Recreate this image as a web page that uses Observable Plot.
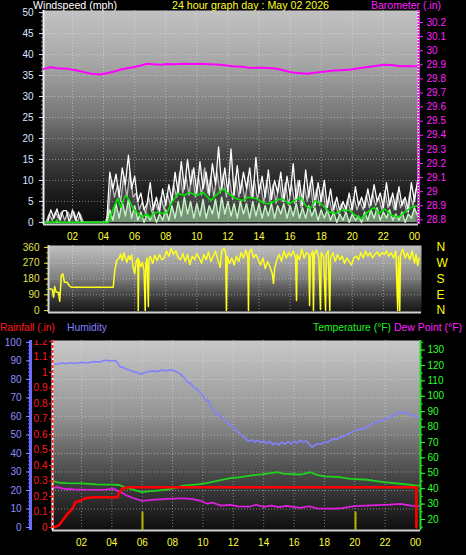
<!DOCTYPE html>
<html><head><meta charset="utf-8">
<script src="https://cdn.jsdelivr.net/npm/d3@7"></script>
<script src="https://cdn.jsdelivr.net/npm/@observablehq/plot@0.6"></script>
<style>
html,body{margin:0;padding:0;background:#000;}
#root{position:relative;width:466px;height:555px;background:#000;overflow:hidden;font-family:"Liberation Sans",Arial,sans-serif;}
.t{position:absolute;font-size:11px;white-space:nowrap;line-height:12px;transform-origin:0 0;}
</style></head><body><div id="root"></div>
<script>
// ---------- DATA ----------
const titleText = "24 hour graph day : May 02 2026";
const xTicks = [2,4,6,8,10,12,14,16,18,20,22,24];

// Panel 1: wind (mph), samples every 0.2 h starting at 0.2 h
const gustValues = [0,0,3,1,3.2,0.5,2.8,2.8,0,3,0.5,2.5,0,0,0,0,0,0,0,0,0,
  12,8,11.5,6,13,9,16,8,11,5,7,3,4.5,9.5,3,6,2.5,8,4,9,5,12,7,14.5,8,15,9,13,7,14.5,8,12,6.5,14,9,18,8,13,
  7,17.5,6.5,13.5,7,12,8,13,6,15.5,7,11,6,12.5,5.5,10,7,12,5,11,6.5,14,5,10,4,12.5,6,11,4,9.5,5,10,3.5,8,3,6,2.5,5,3,7,
  3,8.5,4,6,3.5,8,4,9,5,7,3.5,9.5,4,7,3,8.5,4,6,2.5,9.5,5,10];
// secondary (grey) gust trace, samples every 0.2 h starting at 0.3 h
const grayValues = [0,2,0.5,2.5,1,2.5,0.5,2.5,1,2.5,0,2,0,0,0,0,0,0,0,0,
  2,10,6,9,5,11,6,12,6,7,3,5,2,6,2.5,5,3,6,3,7,4,9,6,12,7,11,6.5,12.5,6,11,6.5,13,7,11,6,12,7,11.5,6,
  10.5,5.5,11,6,10,5,11,6,10,5.5,9.5,4.5,10,5,9,4.5,10,5,9.5,4,9,4.5,10,3.5,9,5,9.5,3.5,8,4,8,3,6,2.5,5,2,4.5,2.5,5.5,2.5,
  6,3,5,3,6.5,3.5,7,4,6,3,7.5,3.5,6,3,7,3.5,5.5,2.5,7,4,8];
// wind speed, samples every 0.2 h starting at 0.2 h
const speedValues = [0,0,0,0,0,0,0,0,0,0,0,0,0,0,0,0,0,0,0,0,0,
  3,0.5,4.5,1,5,1.5,5.5,1,4,0.5,2.5,0,2,0.5,2.5,0,2,0.5,3,0.5,4,1,5,1.5,6,2,5,1,4.5,1.5,5.5,1,4,2,5.5,1,6,2,
  5,1.5,4.5,1,5,2,4.5,1,5,1.5,4.5,1,4,1.5,4.5,1,4,2,4.5,1,4,1.5,4.5,1,3.5,1,4,1.5,3.5,0.5,3,1,3,0.5,2.5,0,2,0.5,2.5,0,
  2,0.5,1.5,0,2.5,0.5,3,1,3.5,0.5,2.5,1,3,0.5,2,0.5,2.5,0,2,1,3.5,1.5];
// average wind [hour, mph]
const avgWind = [[0.2,0],[0.9,0],[1.0,0.6],[1.1,0],[4.3,0],[4.6,3],[4.9,5.7],[5.1,3.6],[5.4,6.4],[5.6,5.7],[5.9,3.3],
  [6.2,2.2],[6.5,1.3],[6.8,2.0],[7.0,1.2],[7.2,2.1],[7.5,2.5],[7.8,2.1],[8.1,2.5],[8.4,4.8],[8.8,6.9],[9.2,6.4],[9.5,7.2],
  [10.0,6.4],[10.4,7.2],[10.9,5.2],[11.2,6.4],[11.7,8],[12.0,6.9],[12.5,5.7],[12.9,5.2],[13.3,6],[13.8,5.7],[14.2,4.8],
  [14.6,4.4],[15.1,5.2],[15.5,5.7],[15.9,4.4],[16.3,5.2],[16.7,6],[17.0,4],[17.3,3.2],[17.6,5.2],[18.0,4.4],[18.5,2.5],
  [18.9,2.1],[19.3,2.9],[19.8,2.9],[20.2,1.7],[20.6,0.9],[21.0,2.5],[21.4,3.6],[21.7,2.1],[22.1,3.2],[22.5,1.7],[23.0,1.3],
  [23.4,2.5],[23.8,3.6],[24.2,4]];
// barometer [hour, inHg]
const baro = [[0.135,29.871],[0.6,29.883],[1.0,29.876],[1.7,29.871],[2.3,29.859],[2.8,29.846],[3.2,29.836],[3.8,29.831],
  [4.2,29.840],[4.7,29.852],[5.1,29.866],[5.5,29.875],[5.9,29.883],[6.4,29.895],[6.8,29.907],[7.2,29.903],[7.7,29.900],
  [8.1,29.905],[8.6,29.903],[9.2,29.907],[9.7,29.905],[10.2,29.907],[10.8,29.904],[11.3,29.902],[11.8,29.897],[12.3,29.890],
  [12.9,29.886],[13.4,29.878],[14.2,29.879],[14.9,29.876],[15.3,29.868],[15.6,29.859],[16.0,29.849],[16.3,29.843],
  [17.05,29.836],[17.7,29.846],[18.3,29.853],[18.8,29.859],[19.3,29.862],[19.9,29.866],[20.4,29.875],[20.9,29.883],
  [21.5,29.892],[22.0,29.900],[22.5,29.899],[23.1,29.890],[23.6,29.892],[24.26,29.888]];
const windTicks = [0,5,10,15,20,25,30,35,40,45,50];
const baroTicks = [28.8,28.9,29.0,29.1,29.2,29.3,29.4,29.5,29.6,29.7,29.8,29.9,30.0,30.1,30.2];

// Panel 2: wind direction [hour, degrees]
const windDir = [[0.55,124],[0.7,120],[0.78,76],[0.85,137],[0.95,105],[1.1,105],[1.18,53],[1.28,200],[1.38,210],[1.48,162],
  [1.65,162],[1.78,143],[1.92,133],[4.62,133],[4.72,229],[4.85,286],
  [5.0,300],[5.1,322],[5.2,285],[5.3,330],[5.4,300],[5.5,275],[5.6,312],[5.7,290],[5.8,318],[5.9,250],[6.0,211],[6.1,280],
  [6.2,300],[6.23,0],[6.27,290],[6.4,250],[6.5,275],[6.6,230],[6.68,0],[6.72,270],[6.8,300],[6.88,23],[6.92,290],[7.0,310],
  [7.15,270],[7.3,315],[7.45,285],[7.6,320],[7.75,290],[7.9,300],[8.05,340],[8.2,310],[8.35,355],[8.5,320],[8.65,340],
  [8.8,300],[8.95,290],[9.1,325],[9.25,280],[9.4,320],[9.55,262],[9.7,310],[9.85,290],[10.0,325],[10.15,300],[10.3,270],
  [10.45,320],[10.6,290],[10.75,335],[10.9,280],[11.05,310],[11.2,340],[11.35,290],[11.5,247],[11.6,340],[11.75,355],
  [11.85,330],[11.9,0],[11.95,310],[12.1,270],[12.25,300],[12.4,260],[12.55,310],[12.7,280],[12.85,330],[13.0,300],
  [13.15,345],[13.28,300],[13.32,0],[13.36,330],[13.5,350],[13.65,300],[13.8,320],[13.95,290],[14.1,260],[14.25,300],
  [14.4,240],[14.55,280],[14.7,250],[14.85,211],[14.93,154],[15.0,240],[15.15,290],[15.3,320],[15.45,280],[15.6,340],
  [15.75,300],[15.9,330],[16.05,310],[16.2,340],[16.35,300],[16.41,57],[16.45,320],[16.6,290],[16.75,350],[16.9,300],
  [17.05,330],[17.2,320],[17.25,29],[17.3,310],[17.45,340],[17.5,0],[17.55,320],[17.7,345],[17.85,300],[17.95,6],[18.0,330],
  [18.15,310],[18.28,0],[18.32,320],[18.45,340],[18.55,0],[18.6,300],[18.75,330],[18.9,280],[19.05,320],[19.2,290],
  [19.35,310],[19.5,270],[19.65,300],[19.8,280],[19.95,260],[20.1,300],[20.25,310],[20.4,290],[20.55,330],[20.7,300],
  [20.85,340],[21.0,310],[21.15,330],[21.3,300],[21.45,320],[21.6,335],[21.75,310],[21.9,330],[22.05,320],[22.2,340],
  [22.35,310],[22.5,330],[22.65,300],[22.8,340],[22.92,0],[22.97,310],[23.05,0],[23.1,320],[23.25,350],[23.4,300],
  [23.55,330],[23.7,290],[23.85,340],[24.0,270],[24.1,320],[24.2,257],[24.3,300]];
const dirTicks = [0,90,180,270,360];
const compassTicks = [360,270,180,90,0];
const compassLabels = ["N","W","S","E","N"];

// Panel 3
const humidity = [[0.1,88.5],[0.4,88.2],[0.7,88.8],[1.0,88.4],[1.3,89],[1.6,88.6],[2.0,89.2],[2.4,89],[2.8,89.6],[3.2,89.4],
  [3.5,90.3],[3.9,90],[4.2,90.2],[4.35,89.4],[4.5,87],[4.7,86.5],[4.9,85.8],[5.1,85.2],[5.4,84.2],[5.7,83.6],[5.9,82.8],
  [6.1,83.4],[6.4,84.2],[6.7,84.6],[7.0,84.2],[7.3,85],[7.6,84.6],[7.9,85.2],[8.2,84.4],[8.5,83],[8.7,81.5],[9.0,78.5],
  [9.2,77.8],[9.4,75.6],[9.6,75],[9.85,72.5],[10.0,71.2],[10.2,68.5],[10.35,69],[10.5,65.5],[10.7,63.5],[10.85,61],[11.0,61.8],
  [11.2,59.5],[11.4,58.5],[11.6,56.5],[11.8,55.5],[12.0,54],[12.2,52.5],[12.4,51],[12.6,49.5],[12.8,48.2],[13.0,46.5],
  [13.2,47.5],[13.4,46.2],[13.6,47.2],[13.8,45.8],[14.0,46.8],[14.2,45.5],[14.4,46.5],[14.6,44.8],[14.8,45.6],[15.0,44.6],
  [15.2,46.2],[15.4,45],[15.6,46.4],[15.8,45.2],[16.0,46.6],[16.2,45.6],[16.4,47.2],[16.6,46],[16.8,46.8],[17.0,45],[17.2,43.4],
  [17.4,44.6],[17.6,45.4],[17.8,45],[18.0,46.2],[18.2,45.8],[18.4,47],[18.6,48],[18.8,47.6],[19.0,48.6],[19.2,49.2],[19.4,49.8],
  [19.6,50.8],[19.8,51.4],[20.0,52.2],[20.2,52.8],[20.4,53.4],[20.6,53.2],[20.8,54.4],[21.0,55],[21.2,56.2],[21.4,56.8],
  [21.6,57.6],[21.8,57.8],[22.0,58.8],[22.2,59.2],[22.4,60],[22.6,60.8],[22.8,61.6],[23.0,62.4],[23.2,61.8],[23.4,62.2],
  [23.6,61.2],[23.8,60.6],[24.0,60.2],[24.2,59.6]];
const temperature = [[0.1,44.9],[0.5,44],[1,43.6],[2,43.4],[3,42.8],[4,42.7],[4.5,42.4],[4.8,41],[5.2,40],[5.6,38.7],[6,37.7],
  [6.4,38.3],[7,38.8],[7.7,39.5],[8.2,40.5],[8.7,42],[9.3,42.5],[9.8,43],[10.4,44],[11,45.3],[11.8,46.8],[12.5,47.5],
  [13.1,48.5],[14,49.5],[14.9,50.8],[15.3,49.8],[16.4,49.2],[17.1,50.7],[17.5,49],[18,48],[19,47.5],[19.7,46.4],[20.8,45.8],
  [21.9,44.2],[23,43.2],[24,42.2],[24.3,42]];
const dewPoint = [[0.1,40.3],[0.4,41],[0.8,40],[1.5,39.6],[2.5,39.3],[3.5,39.3],[4.1,40],[4.6,37.7],[5,35.5],[5.4,34],[6,32],
  [6.6,32.8],[7.7,33.4],[8.7,33.8],[9.3,33.2],[9.8,32.3],[10.3,30.2],[10.6,31],[11.2,29],[11.8,29.5],[12.3,28.5],[13.1,28.4],
  [13.5,29.6],[14,28.2],[14.5,29],[15,28],[15.5,28.8],[16.4,27.6],[17,28.6],[17.5,27.2],[18.6,27],[19.2,27.4],[19.7,28.4],
  [20.3,28.8],[20.8,29],[21.5,29.3],[22.3,29.6],[23,30.2],[23.6,29.2],[24,28.6],[24.3,28.8]];
const rainfall = [[0.15,0],[0.5,0.013],[0.75,0.045],[1.07,0.088],[1.4,0.12],[1.6,0.163],[1.94,0.174],[2.27,0.19],[2.8,0.195],
  [4.37,0.195],[4.45,0.217],[4.7,0.25],[5.0,0.26],[24.05,0.26],[24.06,0]];
const markerHours = [6.02, 20.05];
const markerTop = [0.1, 0.1];
const humTicks = [0,10,20,30,40,50,60,70,80,90,100];
const rainTicks = [0,0.1,0.2,0.3,0.4,0.5,0.6,0.7,0.8,0.9,1.0,1.1,1.2];
const tempTicks = [20,30,40,50,60,70,80,90,100,110,120,130];

// ---------- HELPERS ----------
const FONT = '"Liberation Sans", Arial, sans-serif';
const root = document.getElementById("root");
const fmtHour = h => String(h % 24).padStart(2, "0");
const fmt1 = d => String(+d.toFixed(1));
const pts = arr => arr.map(([h, v]) => ({h, v}));
const idx = (vals, start) => vals.map((v, i) => ({h: start + 0.2 * i, v}));
function grad(id, stops) {
  return () => {
    const ns = "http://www.w3.org/2000/svg";
    const defs = document.createElementNS(ns, "defs");
    const lg = document.createElementNS(ns, "linearGradient");
    lg.setAttribute("id", id); lg.setAttribute("x1", "0"); lg.setAttribute("y1", "0");
    lg.setAttribute("x2", "0"); lg.setAttribute("y2", "1");
    for (const [o, c] of stops) {
      const s = document.createElementNS(ns, "stop");
      s.setAttribute("offset", o); s.setAttribute("stop-color", c); lg.appendChild(s);
    }
    defs.appendChild(lg);
    return defs;
  };
}
function place(opts, top, clip) {
  const svg = Plot.plot({...opts,
    style: `background:transparent;overflow:${clip ? "hidden" : "visible"};font-family:${FONT};font-size:10px;`});
  svg.style.position = "absolute"; svg.style.left = "0px"; svg.style.top = top + "px";
  svg.style.maxWidth = "none";
  root.appendChild(svg);
  return svg;
}
function text(str, left, top, color, width) {
  const d = document.createElement("div");
  d.className = "t"; d.textContent = str; d.style.left = left + "px"; d.style.top = top + "px";
  d.style.color = color;
  root.appendChild(d);
  const w = d.getBoundingClientRect().width;
  if (w > 0 && width) d.style.transform = `scaleX(${width / w})`;
}
const gridStyle = {stroke: "#f0f0f0", strokeOpacity: 0.45, strokeDasharray: "1,2"};

// ---------- PANEL 1: wind + barometer ----------
const windX = [0.135, 24.26];
const p1 = {width: 466, height: 240, marginLeft: 43, marginRight: 48, marginTop: 10, marginBottom: 16};
place({...p1,
  x: {domain: windX, label: null}, y: {domain: [-0.5, 50.5], label: null},
  marks: [
    grad("g1", [["0", "#c2c2c2"], ["0.25", "#a6a6a6"], ["0.5", "#767676"], ["0.7", "#3c3c3c"], ["0.86", "#1c1c1c"], ["1", "#0a0a0a"]]),
    Plot.frame({fill: "url(#g1)"}),
    Plot.gridY(windTicks.slice(1, -1), gridStyle),
    Plot.gridX(xTicks.slice(0, -1), gridStyle),
    Plot.areaY(idx(grayValues, 0.3), {x: "h", y: "v", fill: "#a8a8a8", fillOpacity: 0.3}),
    Plot.line(idx(grayValues, 0.3), {x: "h", y: "v", stroke: "#bcbcbc", strokeWidth: 1.3}),
    Plot.line(idx(gustValues, 0.2), {x: "h", y: "v", stroke: "#ffffff", strokeWidth: 1.3}),
    Plot.areaY(idx(speedValues, 0.2), {x: "h", y: "v", fill: "#b4ecb4", fillOpacity: 0.5}),
    Plot.line(idx(speedValues, 0.2), {x: "h", y: "v", stroke: "#c4f4c4", strokeWidth: 1.4}),
    Plot.line(pts(avgWind), {x: "h", y: "v", stroke: "#00e400", strokeWidth: 1.6}),
    Plot.ruleX([windX[0]], {stroke: "#eeeeee", strokeWidth: 2}),
    Plot.ruleY([-0.5], {stroke: "#cfcfcf", strokeWidth: 2}),
    Plot.axisY(d3.range(0, 51, 1), {anchor: "left", tickSize: 2, tickFormat: () => "", color: "#9a9a9a", label: null}),
    Plot.axisY(windTicks, {anchor: "left", tickSize: 4, tickPadding: 6, color: "#dfe6ff", label: null}),
    Plot.axisX(xTicks, {anchor: "bottom", tickSize: 0, tickPadding: 8, tickFormat: fmtHour, color: "#ffff3a", label: null})
  ]}, 0);
place({...p1,
  x: {domain: windX, axis: null}, y: {domain: [28.767, 30.285], label: null},
  marks: [
    Plot.line(pts(baro), {x: "h", y: "v", stroke: "#ff00ff", strokeWidth: 2}),
    Plot.ruleX([windX[1]], {stroke: "#ffffff", strokeWidth: 2}),
    Plot.ruleX([windX[1]], {stroke: "#ff00ff", strokeWidth: 2, strokeDasharray: "2,1"}),
    Plot.axisY(baroTicks, {anchor: "right", tickSize: 4, tickPadding: 4, tickFormat: fmt1, color: "#ff22ff", label: null})
  ]}, 0);

// ---------- PANEL 2: wind direction ----------
const dirX = [0.457, 24.45];
place({width: 466, height: 80, marginLeft: 48, marginRight: 45, marginTop: 5, marginBottom: 8,
  x: {domain: dirX, axis: null}, y: {domain: [-11, 371], label: null},
  marks: [
    grad("g2", [["0", "#c0c0c0"], ["0.45", "#868686"], ["0.8", "#363636"], ["1", "#141414"]]),
    Plot.frame({fill: "url(#g2)"}),
    Plot.gridY([90, 180, 270], gridStyle),
    Plot.gridX(xTicks.slice(0, -1), gridStyle),
    Plot.line(pts(windDir), {x: "h", y: "v", stroke: "#ffff1e", strokeWidth: 1.5}),
    Plot.ruleX([dirX[0]], {stroke: "#d8d8d8", strokeWidth: 2}),
    Plot.ruleY([-11], {stroke: "#d0d0d0", strokeWidth: 2}),
    Plot.axisY(d3.range(0, 361, 30), {anchor: "left", tickSize: 2, tickFormat: () => "", color: "#b0b030", label: null}),
    Plot.axisY(dirTicks, {anchor: "left", tickSize: 4, tickPadding: 5, color: "#e4e44c", label: null}),
    Plot.axisY(compassTicks, {anchor: "right", tickSize: 0, tickPadding: 15, fontSize: 12,
      tickFormat: d => compassLabels[compassTicks.indexOf(d)], color: "#ffff00", label: null})
  ]}, 240);

// ---------- PANEL 3: rain, humidity, temperature, dew point ----------
const p3X = [0.092, 24.33];
const humX0 = p3X[0] - 22 * (p3X[1] - p3X[0]) / 368;
const p3 = {width: 466, height: 220, marginLeft: 52, marginRight: 46, marginTop: 5, marginBottom: 25};
place({...p3,
  x: {domain: p3X, label: null}, y: {domain: [-1.6, 101], label: null},
  marks: [
    grad("g3", [["0", "#c8c8c8"], ["0.4", "#939393"], ["0.7", "#4a4a4a"], ["1", "#0e0e0e"]]),
    Plot.frame({fill: "url(#g3)"}),
    Plot.gridY(humTicks.slice(1, -1), gridStyle),
    Plot.gridX(xTicks.slice(0, -1), gridStyle),
    Plot.ruleY([-1.6], {stroke: "#d0d0d0", strokeWidth: 2}),
    Plot.axisX(xTicks, {anchor: "bottom", tickSize: 0, tickPadding: 8, tickFormat: fmtHour, color: "#ffff3a", label: null})
  ]}, 335);
// humidity layer with its own axis further left
place({...p3, marginLeft: 30,
  x: {domain: [humX0, p3X[1]], axis: null}, y: {domain: [-1.6, 101], label: null},
  marks: [
    Plot.line(pts(humidity), {x: "h", y: "v", stroke: "#8282ff", strokeWidth: 1.6}),
    Plot.ruleX([humX0], {stroke: "#6b6bff", strokeWidth: 3}),
    Plot.axisY(d3.range(0, 101, 2), {anchor: "left", tickSize: 2, tickFormat: () => "", color: "#6b6bff", label: null}),
    Plot.axisY(humTicks, {anchor: "left", tickSize: 4, tickPadding: 5, color: "#8c8cff", label: null})
  ]}, 335);
// temperature / dew point layer
place({...p3,
  x: {domain: p3X, axis: null}, y: {domain: [12.86, 136.2], label: null},
  marks: [
    Plot.line(pts(dewPoint), {x: "h", y: "v", stroke: "#e21ee2", strokeWidth: 1.7}),
    Plot.line(pts(temperature), {x: "h", y: "v", stroke: "#1ed21e", strokeWidth: 1.8}),
    Plot.ruleX([p3X[1]], {stroke: "#22dd22", strokeWidth: 2}),
    Plot.axisY(d3.range(15, 136, 5), {anchor: "right", tickSize: 2, tickFormat: () => "", color: "#22dd22", label: null}),
    Plot.axisY(tempTicks, {anchor: "right", tickSize: 4, tickPadding: 3, color: "#2aff2a", label: null})
  ]}, 335);
// rainfall layer (clipped at top like the original)
place({...p3, height: 215, marginTop: 0,
  x: {domain: p3X, axis: null}, y: {domain: [-0.019, 1.2065], label: null},
  marks: [
    Plot.ruleX(markerHours.map((h, i) => ({h, top: markerTop[i]})), {x: "h", y1: -0.019, y2: "top", stroke: "#b4b400", strokeWidth: 2}),
    Plot.line(pts(rainfall), {x: "h", y: "v", stroke: "#ff0000", strokeWidth: 2.6}),
    Plot.ruleX([p3X[0]], {stroke: "#ffffff", strokeWidth: 2}),
    Plot.ruleX([p3X[0]], {stroke: "#ff2020", strokeWidth: 2, strokeDasharray: "3,2"}),
    Plot.axisY(rainTicks, {anchor: "left", tickSize: 3, tickPadding: 2, tickFormat: fmt1, color: "#ff1a1a", label: null})
  ]}, 340, true);

// ---------- TEXT ----------
text("Windspeed (mph)", 33, -1, "#ffffff", 84);
text(titleText, 172, -1, "#ffff22", 157);
text("Barometer (.in)", 371, -1, "#ff22ff", 70);
text("Rainfall (.in)", 0, 321, "#ff1a1a", 55);
text("Humidity", 67, 321, "#8080ff", 40);
text("Temperature (°F)", 313, 321, "#22ee22", 78);
text("Dew Point (°F)", 394, 321, "#ff22ff", 68);
</script></body></html>
